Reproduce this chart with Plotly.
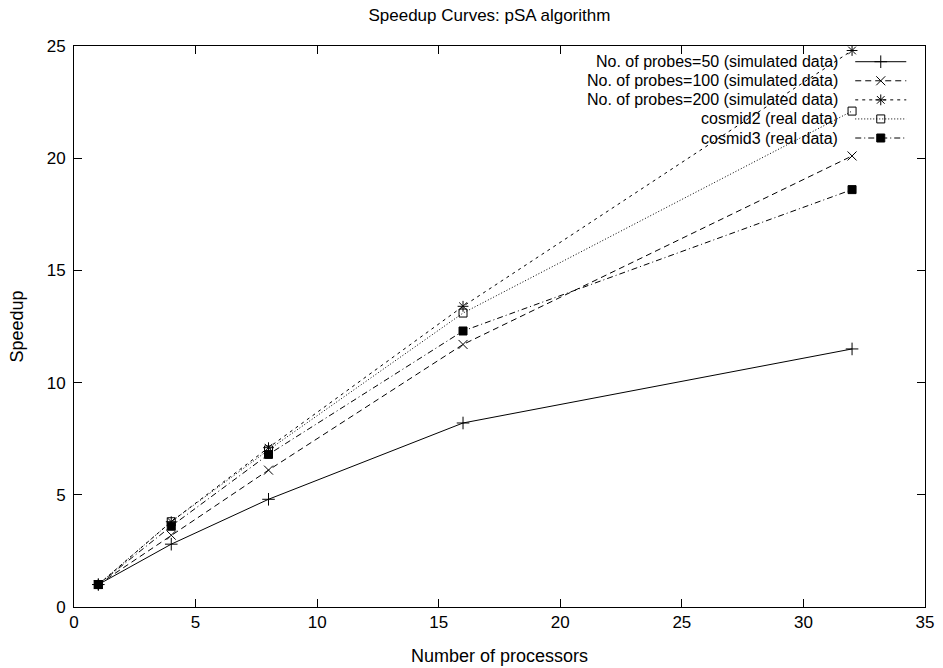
import plotly.graph_objects as go

# data
processors = [1, 4, 8, 16, 32]
probes_50 = [1.0, 2.8, 4.8, 8.2, 11.5]
probes_100 = [1.0, 3.2, 6.1, 11.7, 20.1]
probes_200 = [1.0, 3.8, 7.1, 13.4, 24.8]
cosmid2 = [1.0, 3.8, 7.0, 13.1, 22.1]
cosmid3 = [1.0, 3.6, 6.8, 12.3, 18.6]

series_names = [
    "No. of probes=50 (simulated data)",
    "No. of probes=100 (simulated data)",
    "No. of probes=200 (simulated data)",
    "cosmid2 (real data)",
    "cosmid3 (real data)",
]
series_values = [probes_50, probes_100, probes_200, cosmid2, cosmid3]
dashes = ["solid", "6px,4px", "3px,4px", "1px,2px", "6px,3px,1px,3px"]
symbols = ["cross-thin-open", "x-thin-open", "asterisk-open", "square-open", "square"]
sizes = [9, 9, 9, 8, 8]

FONT = "Liberation Sans, Arial, sans-serif"

fig = go.Figure()

for name, vals, dash, sym, sz in zip(series_names, series_values, dashes, symbols, sizes):
    fig.add_trace(go.Scatter(
        x=processors, y=vals, name=name, mode="lines+markers",
        line=dict(color="black", width=1, dash=dash),
        marker=dict(symbol=sym, size=sz, color="black", line=dict(color="black", width=1)),
        showlegend=False,
    ))

# gnuplot-style key: text right-aligned, sample to its right
key_rows = [0.972, 0.938, 0.904, 0.870, 0.836]
for name, dash, sym, sz, ky in zip(series_names, dashes, symbols, sizes, key_rows):
    fig.add_trace(go.Scatter(
        x=[0.918, 0.948, 0.978], y=[ky, ky, ky], xaxis="x2", yaxis="y2",
        mode="lines", showlegend=False, hoverinfo="skip",
        line=dict(color="black", width=1, dash=dash),
    ))
    fig.add_trace(go.Scatter(
        x=[0.948], y=[ky], xaxis="x2", yaxis="y2",
        mode="markers", showlegend=False, hoverinfo="skip",
        marker=dict(symbol=sym, size=sz, color="black", line=dict(color="black", width=1)),
    ))
    fig.add_annotation(
        x=0.900, y=ky, xref="x2", yref="y2", text=name, showarrow=False,
        xanchor="right", yanchor="middle", font=dict(size=16, color="black", family=FONT),
    )

axis_style = dict(
    showline=True, linecolor="black", linewidth=1, mirror="allticks",
    ticks="inside", ticklen=8, tickcolor="black", showgrid=False, zeroline=False,
    tickfont=dict(size=17, color="black", family=FONT), automargin=False,
)

fig.update_layout(
    width=943, height=668,
    margin=dict(l=74, r=18, t=46, b=61),
    paper_bgcolor="white", plot_bgcolor="white",
    font=dict(family=FONT, color="black", size=18),
    title=dict(text="Speedup Curves: pSA algorithm", x=0.519, xanchor="center",
               yref="container", y=0.978, yanchor="middle", font=dict(size=17, family=FONT)),
    xaxis=dict(range=[0, 35], dtick=5, title=dict(text="Number of processors", standoff=17,
               font=dict(size=18)), **axis_style),
    yaxis=dict(range=[0, 25], dtick=5, ticklabelstandoff=4,
               title=dict(text="Speedup", standoff=18, font=dict(size=18)), **axis_style),
    xaxis2=dict(range=[0, 1], overlaying="x", visible=False, fixedrange=True),
    yaxis2=dict(range=[0, 1], overlaying="y", visible=False, fixedrange=True),
)

# drop the browser's default body margin so the figure sits at the page origin
fig.write_html("out.html", config={"displayModeBar": False},
               post_script="document.body.style.margin='0';")
